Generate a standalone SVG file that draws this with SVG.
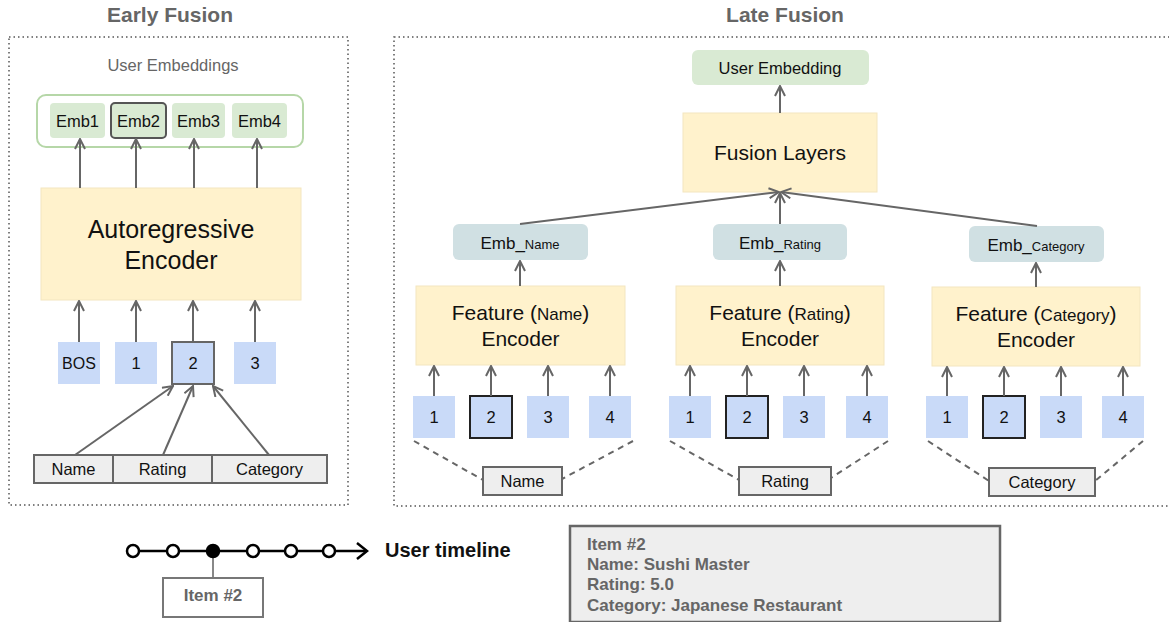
<svg xmlns="http://www.w3.org/2000/svg" width="1169" height="622" viewBox="0 0 1169 622">
<style>
text{font-family:"Liberation Sans",Arial,sans-serif;fill:#111}
.title{font-size:21px;font-weight:bold;fill:#666;text-anchor:middle}
.dot{fill:none;stroke:#555;stroke-width:1.5;stroke-dasharray:1.5 3}
.enc{fill:#fff2cc;stroke:#f3e6c0;stroke-width:1}
.emb{fill:#d9ead3}
.embf{fill:#d0e0e3}
.tok{fill:#c9daf8}
.tokb{fill:#c9daf8;stroke:#222;stroke-width:2}
.feat{fill:#eeeeee;stroke:#666;stroke-width:2}
.c{text-anchor:middle}
.arr{fill:none;stroke:#666;stroke-width:2;marker-end:url(#ah)}
.dash{fill:none;stroke:#666;stroke-width:2;stroke-dasharray:6 5}
.gray{fill:#666;font-weight:bold}
</style>
<defs>
<marker id="ah" viewBox="0 0 12 12" refX="11" refY="6" markerWidth="12" markerHeight="12" markerUnits="userSpaceOnUse" orient="auto">
<path d="M1,1 L11,6 L1,11" fill="none" stroke="#666" stroke-width="2"/>
</marker>
</defs>

<!-- Titles and frames -->
<text class="title" x="170" y="22">Early Fusion</text>
<text class="title" x="785" y="22">Late Fusion</text>
<rect class="dot" x="9" y="37" width="339" height="468"/>
<rect class="dot" x="394" y="37" width="780" height="469"/>

<!-- Early Fusion -->
<g id="user-embeddings">
<text class="c" x="173" y="71" style="font-size:16.5px;fill:#666">User Embeddings</text>
<rect x="37" y="95" width="266" height="52" rx="9" fill="#fff" stroke="#b6d7a8" stroke-width="2"/>
</g>
<g id="emb1"><rect class="emb" x="50" y="103" width="55" height="35" rx="4"/><text class="c" x="77.5" y="127" style="font-size:16.5px">Emb1</text></g>
<g id="emb2"><rect class="emb" x="111" y="103" width="55" height="35" rx="4" stroke="#555" stroke-width="2"/><text class="c" x="138.5" y="127" style="font-size:16.5px">Emb2</text></g>
<g id="emb3"><rect class="emb" x="172" y="103" width="53" height="35" rx="4"/><text class="c" x="198.5" y="127" style="font-size:16.5px">Emb3</text></g>
<g id="emb4"><rect class="emb" x="232" y="103" width="55" height="35" rx="4"/><text class="c" x="259.5" y="127" style="font-size:16.5px">Emb4</text></g>

<g id="autoregressive-encoder">
<rect class="enc" x="41" y="188" width="260" height="112"/>
<text class="c" x="171" y="238" style="font-size:25px">Autoregressive</text>
<text class="c" x="171" y="269" style="font-size:25px">Encoder</text>
</g>

<g id="tok-bos"><rect class="tok" x="58" y="342" width="42" height="42"/><text class="c" x="79" y="369" style="font-size:16px">BOS</text></g>
<g id="tok-1"><rect class="tok" x="115" y="342" width="42" height="42"/><text class="c" x="136" y="369" style="font-size:16.5px">1</text></g>
<g id="tok-2"><rect class="tok" x="172" y="342" width="42" height="42" stroke="#666" stroke-width="2"/><text class="c" x="193" y="369" style="font-size:16.5px">2</text></g>
<g id="tok-3"><rect class="tok" x="234" y="342" width="42" height="42"/><text class="c" x="255" y="369" style="font-size:16.5px">3</text></g>

<g id="feat-name-early"><rect class="feat" x="34" y="455" width="79" height="28"/><text class="c" x="73.5" y="475" style="font-size:16.5px">Name</text></g>
<g id="feat-rating-early"><rect class="feat" x="113" y="455" width="99" height="28"/><text class="c" x="162.5" y="475" style="font-size:16.5px">Rating</text></g>
<g id="feat-category-early"><rect class="feat" x="212" y="455" width="115" height="28"/><text class="c" x="269.5" y="475" style="font-size:16.5px">Category</text></g>

<!-- Late Fusion -->
<g id="user-embedding"><rect class="emb" x="692" y="50" width="177" height="35" rx="6"/><text class="c" x="780" y="74" style="font-size:16.5px">User Embedding</text></g>
<g id="fusion-layers"><rect class="enc" x="683" y="113" width="194" height="79"/><text class="c" x="780" y="160" style="font-size:21px">Fusion Layers</text></g>

<g id="emb-name"><rect class="embf" x="453" y="224" width="135" height="36" rx="6"/><text class="c" x="520" y="249" style="font-size:17px">Emb_<tspan style="font-size:13px">Name</tspan></text></g>
<g id="emb-rating"><rect class="embf" x="713" y="224" width="134" height="36" rx="6"/><text class="c" x="780" y="249" style="font-size:17px">Emb_<tspan style="font-size:13px">Rating</tspan></text></g>
<g id="emb-category"><rect class="embf" x="969" y="226" width="135" height="36" rx="6"/><text class="c" x="1036" y="251" style="font-size:17px">Emb_<tspan style="font-size:13px">Category</tspan></text></g>

<g id="enc-name"><rect class="enc" x="416" y="286" width="209" height="79"/><text class="c" x="520.5" y="320" style="font-size:21px">Feature (<tspan style="font-size:17px">Name</tspan>)</text><text class="c" x="520.5" y="346" style="font-size:21px">Encoder</text></g>
<g id="enc-rating"><rect class="enc" x="676" y="286" width="208" height="79"/><text class="c" x="780" y="320" style="font-size:21px">Feature (<tspan style="font-size:17px">Rating</tspan>)</text><text class="c" x="780" y="346" style="font-size:21px">Encoder</text></g>
<g id="enc-category"><rect class="enc" x="932" y="287" width="208" height="79"/><text class="c" x="1036" y="321" style="font-size:21px">Feature (<tspan style="font-size:17px">Category</tspan>)</text><text class="c" x="1036" y="347" style="font-size:21px">Encoder</text></g>

<g id="name-tokens">
<rect class="tok" x="413" y="396" width="42" height="42"/><text class="c" x="434" y="423" style="font-size:16.5px">1</text>
<rect class="tokb" x="470" y="396" width="42" height="42"/><text class="c" x="491" y="423" style="font-size:16.5px">2</text>
<rect class="tok" x="527" y="396" width="42" height="42"/><text class="c" x="548" y="423" style="font-size:16.5px">3</text>
<rect class="tok" x="589" y="396" width="42" height="42"/><text class="c" x="610" y="423" style="font-size:16.5px">4</text>
</g>
<g id="rating-tokens">
<rect class="tok" x="669" y="396" width="42" height="42"/><text class="c" x="690" y="423" style="font-size:16.5px">1</text>
<rect class="tokb" x="726" y="396" width="42" height="42"/><text class="c" x="747" y="423" style="font-size:16.5px">2</text>
<rect class="tok" x="783" y="396" width="42" height="42"/><text class="c" x="804" y="423" style="font-size:16.5px">3</text>
<rect class="tok" x="846" y="396" width="42" height="42"/><text class="c" x="867" y="423" style="font-size:16.5px">4</text>
</g>
<g id="category-tokens">
<rect class="tok" x="926" y="396" width="42" height="42"/><text class="c" x="947" y="423" style="font-size:16.5px">1</text>
<rect class="tokb" x="983" y="396" width="42" height="42"/><text class="c" x="1004" y="423" style="font-size:16.5px">2</text>
<rect class="tok" x="1040" y="396" width="42" height="42"/><text class="c" x="1061" y="423" style="font-size:16.5px">3</text>
<rect class="tok" x="1102" y="396" width="42" height="42"/><text class="c" x="1123" y="423" style="font-size:16.5px">4</text>
</g>

<g id="feat-name"><rect class="feat" x="483" y="467" width="79" height="28"/><text class="c" x="522.5" y="487" style="font-size:16.5px">Name</text></g>
<g id="feat-rating"><rect class="feat" x="739" y="467" width="92" height="28"/><text class="c" x="785" y="487" style="font-size:16.5px">Rating</text></g>
<g id="feat-category"><rect class="feat" x="989" y="468" width="106" height="28"/><text class="c" x="1042" y="488" style="font-size:16.5px">Category</text></g>

<!-- Bottom: timeline and item detail -->
<g id="timeline">
<line x1="127" y1="551" x2="366" y2="551" stroke="#000" stroke-width="2.5"/>
<path d="M357,543 L367,551 L357,559" fill="none" stroke="#000" stroke-width="2.5"/>
<line x1="213" y1="551" x2="213" y2="578" stroke="#888" stroke-width="2"/>
<circle cx="133" cy="551" r="6" fill="#fff" stroke="#000" stroke-width="2.5"/>
<circle cx="173" cy="551" r="6" fill="#fff" stroke="#000" stroke-width="2.5"/>
<circle cx="213" cy="551" r="6" fill="#000" stroke="#000" stroke-width="2.5"/>
<circle cx="253" cy="551" r="6" fill="#fff" stroke="#000" stroke-width="2.5"/>
<circle cx="291" cy="551" r="6" fill="#fff" stroke="#000" stroke-width="2.5"/>
<circle cx="329" cy="551" r="6" fill="#fff" stroke="#000" stroke-width="2.5"/>
<text x="385" y="557" style="font-size:20px;font-weight:bold;fill:#111">User timeline</text>
</g>
<g id="item-box">
<rect x="163" y="578" width="100" height="39" fill="#fff" stroke="#777" stroke-width="2"/>
<text class="c gray" x="213" y="601" style="font-size:17px">Item #2</text>
</g>
<g id="item-details">
<rect x="570" y="526" width="430" height="96" fill="#eeeeee" stroke="#666" stroke-width="2.5"/>
<text class="gray" x="587" y="550" style="font-size:17px">Item #2</text>
<text class="gray" x="587" y="570" style="font-size:17px">Name: Sushi Master</text>
<text class="gray" x="587" y="590" style="font-size:17px">Rating: 5.0</text>
<text class="gray" x="587" y="611" style="font-size:17px">Category: Japanese  Restaurant</text>
</g>

<!-- Connectors -->
<g id="connectors">
<line class="arr" x1="80" y1="188" x2="80" y2="139"/>
<line class="arr" x1="136" y1="188" x2="136" y2="139"/>
<line class="arr" x1="194" y1="188" x2="194" y2="139"/>
<line class="arr" x1="257" y1="188" x2="257" y2="139"/>
<line class="arr" x1="79" y1="342" x2="79" y2="301"/>
<line class="arr" x1="136" y1="342" x2="136" y2="301"/>
<line class="arr" x1="193" y1="342" x2="193" y2="301"/>
<line class="arr" x1="255" y1="342" x2="255" y2="301"/>
<line class="arr" x1="75" y1="455" x2="173" y2="386"/>
<line class="arr" x1="163" y1="455" x2="193" y2="386"/>
<line class="arr" x1="269" y1="455" x2="213" y2="386"/>

<line class="arr" x1="780" y1="113" x2="780" y2="86"/>
<line class="arr" x1="520" y1="224" x2="779" y2="192"/>
<line class="arr" x1="780" y1="224" x2="780" y2="193"/>
<line class="arr" x1="1037" y1="226" x2="781" y2="192"/>
<line class="arr" x1="520" y1="286" x2="520" y2="261"/>
<line class="arr" x1="780" y1="286" x2="780" y2="261"/>
<line class="arr" x1="1036" y1="287" x2="1036" y2="263"/>

<line class="arr" x1="434" y1="396" x2="434" y2="366"/>
<line class="arr" x1="491" y1="396" x2="491" y2="366"/>
<line class="arr" x1="548" y1="396" x2="548" y2="366"/>
<line class="arr" x1="610" y1="396" x2="610" y2="366"/>
<line class="arr" x1="690" y1="396" x2="690" y2="366"/>
<line class="arr" x1="747" y1="396" x2="747" y2="366"/>
<line class="arr" x1="804" y1="396" x2="804" y2="366"/>
<line class="arr" x1="867" y1="396" x2="867" y2="366"/>
<line class="arr" x1="947" y1="396" x2="947" y2="367"/>
<line class="arr" x1="1004" y1="396" x2="1004" y2="367"/>
<line class="arr" x1="1061" y1="396" x2="1061" y2="367"/>
<line class="arr" x1="1123" y1="396" x2="1123" y2="367"/>

<line class="dash" x1="414" y1="441" x2="483" y2="480"/>
<line class="dash" x1="633" y1="441" x2="562" y2="479"/>
<line class="dash" x1="670" y1="441" x2="739" y2="480"/>
<line class="dash" x1="888" y1="441" x2="831" y2="478"/>
<line class="dash" x1="928" y1="441" x2="989" y2="481"/>
<line class="dash" x1="1143" y1="441" x2="1095" y2="481"/>
</g>
</svg>
